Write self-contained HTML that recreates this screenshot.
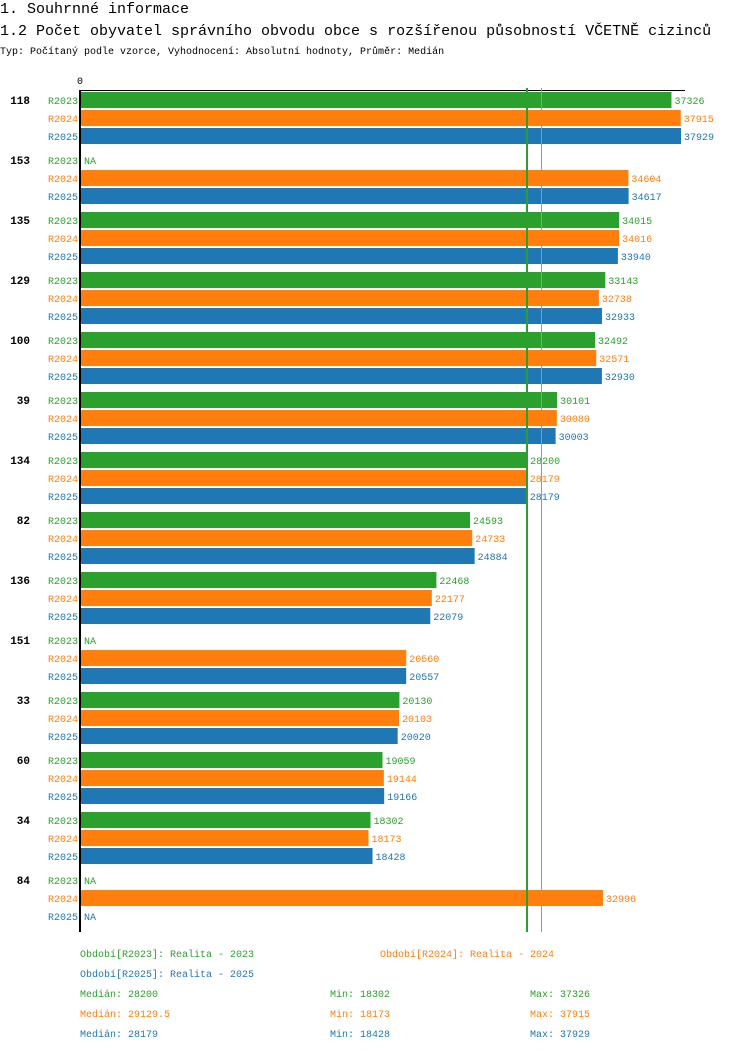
<!DOCTYPE html>
<html><head><meta charset="utf-8"><style>
body{margin:0;background:#fff;width:750px;height:1052px;overflow:hidden}
svg{font-family:"Liberation Mono","DejaVu Sans Mono",monospace}
</style></head><body>
<svg id="chart" width="750" height="1052">
<text x="0" y="13" font-size="15">1. Souhrnné informace</text>
<text x="0" y="35" font-size="15">1.2 Počet obyvatel správního obvodu obce s rozšířenou působností VČETNĚ cizinců</text>
<text x="0" y="54" font-size="10">Typ: Počítaný podle vzorce, Vyhodnocení: Absolutní hodnoty, Průměr: Medián</text>
<text x="80" y="84" font-size="10" text-anchor="middle">0</text>
<g id="bars"></g>
<g id="legend"></g>
</svg>
<script>
const categories=["118","153","135","129","100","39","134","82","136","151","33","60","34","84"];
const r2023=[37326,null,34015,33143,32492,30101,28200,24593,22468,null,20130,19059,18302,null];
const r2024=[37915,34604,34016,32738,32571,30080,28179,24733,22177,20560,20103,19144,18173,32996];
const r2025=[37929,34617,33940,32933,32930,30003,28179,24884,22079,20557,20020,19166,18428,null];
const seriesNames=["R2023","R2024","R2025"];
const medians=[28200,29129.5,28179];
const mins=[18302,18173,18428];
const maxs=[37326,37915,37929];
const colors=["#2ca02c","#ff7f0e","#1f77b4"];
const NS="http://www.w3.org/2000/svg";
const x0=81,scale=600/37929;
const xs=v=>x0+v*scale;
const g=document.getElementById('bars');
function el(t,a,p){const e=document.createElementNS(NS,t);for(const k in a)e.setAttribute(k,a[k]);(p||g).appendChild(e);return e;}
const series=[r2023,r2024,r2025];
categories.forEach((c,i)=>{
  const gy=100+i*60;
  const t=el('text',{x:30,y:gy+4,'font-size':11,'font-weight':'bold','text-anchor':'end'});t.textContent=c;
  
  
  series.forEach((s,j)=>{
    const y=gy+j*18;
    const l=el('text',{x:78,y:y+4,'font-size':10,'text-anchor':'end',fill:colors[j]});l.textContent=seriesNames[j];
    
    
    const v=s[i];
    if(v==null){
      const n=el('text',{x:84,y:y+4,'font-size':10,fill:colors[j]});n.textContent='NA';
      
      
      return;
    }
    const r=el('rect',{x:x0,y:y-8,width:xs(v)-x0,height:16,fill:colors[j]});
    
    
    const vt=el('text',{x:xs(v)+3,y:y+4,'font-size':10,fill:colors[j]});vt.textContent=v;
    
    
  });
});
const ax=el('rect',{x:79,y:90,width:2,height:842,fill:'#000'});


const tl=el('rect',{x:79,y:90,width:606,height:1,fill:'#000'});


[0,1].forEach(j=>{
  const m=el('rect',{x:Math.round(xs(medians[j]))-1,y:88,width:j==0?2:1,height:844,fill:colors[j]});
  
  
});
const lg=document.getElementById('legend');
function lt(x,y,txt,c){const t=el('text',{x:x,y:y,'font-size':10,fill:c},lg);t.textContent=txt;return t;}
let a=lt(80,957,'Období[R2023]: Realita - 2023',colors[0]);
a=lt(380,957,'Období[R2024]: Realita - 2024',colors[1]);
a=lt(80,977,'Období[R2025]: Realita - 2025',colors[2]);
[0,1,2].forEach(j=>{
  const y=997+j*20;
  let t=lt(80,y,'Medián: '+medians[j],colors[j]);
  t=lt(330,y,'Min: '+mins[j],colors[j]);
  t=lt(530,y,'Max: '+maxs[j],colors[j]);
});
</script>
</body></html>
